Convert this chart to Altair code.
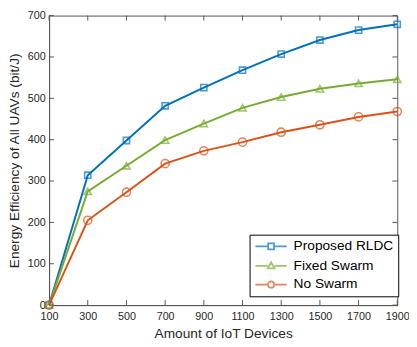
import altair as alt
import pandas as pd

devices = [100, 300, 500, 700, 900, 1100, 1300, 1500, 1700, 1900]
rldc = [0, 314, 398, 482, 526, 568, 607, 641, 665, 679]
fixed = [0, 275, 337, 399, 439, 477, 503, 523, 536, 546]
noswarm = [0, 205, 273, 342, 373, 394, 418, 436, 455, 468]
series_names = ["Proposed RLDC", "Fixed Swarm", "No Swarm"]
colors = ["#0072BD", "#77AC30", "#D95319"]
x_ticks = [100, 300, 500, 700, 900, 1100, 1300, 1500, 1700, 1900]
y_ticks = [0, 100, 200, 300, 400, 500, 600, 700]

rows = []
for name, vals in zip(series_names, [rldc, fixed, noswarm]):
    for d, v in zip(devices, vals):
        rows.append({"devices": d, "ee": v, "series": name})
df = pd.DataFrame(rows)
xt_df = pd.DataFrame({"t": x_ticks})
yt_df = pd.DataFrame({"t": y_ticks})

FONT = "Liberation Sans"
AX = "#555555"
TXT = "#262626"
X_MIN, X_MAX = 100, 1900
Y_MIN, Y_MAX = 0, 700

x_scale = alt.Scale(domain=[X_MIN, X_MAX], nice=False, zero=False)
y_scale = alt.Scale(domain=[Y_MIN, Y_MAX], nice=False)
color_scale = alt.Scale(domain=series_names, range=colors)

base = alt.Chart(df)

main_x = alt.Axis(orient="bottom", values=x_ticks, format="d", title="Amount of IoT Devices",
                  ticks=False, domain=True, domainColor=AX, grid=False, labelFontSize=11,
                  labelColor=TXT, titleFontSize=14, titleColor=TXT, titleFontWeight="normal",
                  labelPadding=6, titlePadding=5, labelFont=FONT, titleFont=FONT,
                  labelFlush=False, labelOverlap=False)
main_y = alt.Axis(orient="left", values=y_ticks, format="d",
                  title="Energy Efficiency of All UAVs (bit/J)",
                  ticks=False, domain=True, domainColor=AX, grid=False, labelFontSize=11,
                  labelColor=TXT, titleFontSize=14, titleColor=TXT, titleFontWeight="normal",
                  labelPadding=4, titlePadding=6, labelFont=FONT, titleFont=FONT,
                  labelOverlap=False)

lines = base.mark_line(strokeWidth=2).encode(
    x=alt.X("devices:Q", scale=x_scale, axis=main_x),
    y=alt.Y("ee:Q", scale=y_scale, axis=main_y),
    color=alt.Color("series:N", scale=color_scale, legend=None),
    detail="series:N",
)

points = base.mark_point(filled=False, strokeWidth=1.6).encode(
    x=alt.X("devices:Q", scale=x_scale, axis=main_x),
    y=alt.Y("ee:Q", scale=y_scale, axis=main_y),
    color=alt.Color("series:N", scale=color_scale, legend=None),
    shape=alt.Shape("series:N", scale=alt.Scale(domain=series_names,
                                                 range=["square", "triangle-up", "circle"]),
                    legend=None),
    size=alt.Size("series:O", scale=alt.Scale(domain=series_names, range=[40, 70, 55]), legend=None),
)

TK = AX
TICK_LEN = 12    # in y data units (~5 px)
TICK_LEN_X = 25  # in x data units (~5 px)
# inward tick marks on all four sides (MATLAB box style)
tick_bottom = alt.Chart(xt_df).mark_rule(color=TK, strokeWidth=1).encode(
    x=alt.X("t:Q", scale=x_scale, axis=main_x),
    y=alt.YDatum(Y_MIN, scale=y_scale, axis=main_y), y2=alt.datum(Y_MIN + TICK_LEN))
tick_top = alt.Chart(xt_df).mark_rule(color=TK, strokeWidth=1).encode(
    x=alt.X("t:Q", scale=x_scale, axis=main_x),
    y=alt.YDatum(Y_MAX, scale=y_scale, axis=main_y), y2=alt.datum(Y_MAX - TICK_LEN))
tick_left = alt.Chart(yt_df).mark_rule(color=TK, strokeWidth=1).encode(
    y=alt.Y("t:Q", scale=y_scale, axis=main_y),
    x=alt.XDatum(X_MIN, scale=x_scale, axis=main_x), x2=alt.datum(X_MIN + TICK_LEN_X))
tick_right = alt.Chart(yt_df).mark_rule(color=TK, strokeWidth=1).encode(
    y=alt.Y("t:Q", scale=y_scale, axis=main_y),
    x=alt.XDatum(X_MAX, scale=x_scale, axis=main_x), x2=alt.datum(X_MAX - TICK_LEN_X))

legend_paths = [
    "M-3.2,0H-0.6M0.6,0H3.2M-0.6,-0.6H0.6V0.6H-0.6Z",
    "M-3.2,0H-0.7M0.7,0H3.2M0,-0.75L0.7,0.5L-0.7,0.5Z",
    "M-3.2,0H-0.65M0.65,0H3.2M-0.65,0A0.65,0.65,0,1,1,0.65,0A0.65,0.65,0,1,1,-0.65,0Z",
]

leg = alt.Legend(title=None, orient="none", legendX=205, legendY=224, labelFontSize=14,
                 labelFont=FONT, labelColor="#000000", symbolSize=100, symbolStrokeWidth=1.8,
                 symbolOffset=10, labelOffset=16, strokeColor="#000000", fillColor="white",
                 padding=5, rowPadding=5, symbolFillColor="transparent")

legend_layer = base.transform_filter("false").mark_point(filled=False).encode(
    x=alt.X("devices:Q", scale=x_scale, axis=main_x),
    y=alt.Y("ee:Q", scale=y_scale, axis=main_y),
    color=alt.Color("series:N", scale=color_scale, legend=leg, sort=series_names),
    shape=alt.Shape("series:N", scale=alt.Scale(domain=series_names, range=legend_paths),
                    legend=leg, sort=series_names),
)

chart = alt.layer(lines, tick_bottom, tick_top, tick_left, tick_right, points, legend_layer).resolve_scale(
    color="independent", shape="independent"
).properties(
    width=356, height=296,
    autosize=alt.AutoSizeParams(type="none"),
    padding={"left": 42, "top": 4, "right": 12, "bottom": 36},
).configure_view(stroke=AX, strokeWidth=1).configure_axis(domainWidth=1, tickWidth=1)

chart.save("out.html", embed_options={"renderer": "svg", "actions": False})
